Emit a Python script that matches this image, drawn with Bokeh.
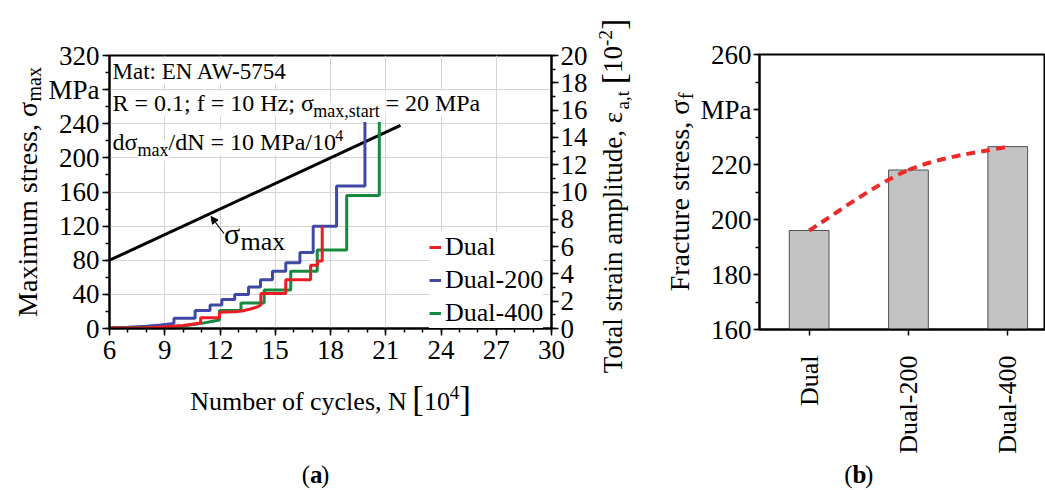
import numpy as np
from bokeh.plotting import figure
from bokeh.models import (Range1d, LinearAxis, Label, Legend, LegendItem, Arrow,
                          NormalHead, FixedTicker)
from bokeh.layouts import row, column
from bokeh.embed import file_html
from bokeh.resources import INLINE

FONT = "Liberation Serif"
CANVAS_H = 490

# ---------------- data: panel (a) ----------------
sigma_line_N = [6, 21.8]
sigma_line_S = [80, 238]

dual_N = [6, 8, 9, 10, 10.95, 10.95, 11.97, 11.97, 12.8, 13.2, 13.6, 14.0, 14.22, 14.22,
          15.57, 15.57, 16.92, 16.92, 17.3, 17.3, 17.55, 17.55]
dual_S = [0.5, 1, 2, 3.5, 6.5, 12.5, 12.5, 19, 19.5, 20.5, 22.5, 25, 27.5, 41,
          41, 57, 57, 74, 74, 79, 79, 120]

dual200_N = [6, 7, 8, 8.8, 9.5, 9.5, 10.65, 10.65, 11.46, 11.46, 12.1, 12.1, 12.8, 12.8,
             13.55, 13.55, 14.2, 14.2, 14.85, 14.85, 15.57, 15.57, 16.34, 16.34,
             17.06, 17.06, 18.33, 18.33, 19.87, 19.87]
dual200_S = [1, 1.5, 2.5, 4, 6, 12, 12, 21, 21, 27.5, 27.5, 34, 34, 40,
             40, 48.5, 48.5, 57, 57, 67, 67, 77, 77, 89,
             89, 120, 120, 167, 167, 242]

dual400_N = [6, 9, 10, 11, 11.97, 11.97, 13.14, 13.14, 14.4, 14.4, 15.84, 15.84,
             17.28, 17.28, 18.88, 18.88, 20.65, 20.65]
dual400_S = [0.5, 1.5, 3, 6, 10, 21, 21, 30, 30, 45, 45, 67,
             67, 92, 92, 156, 156, 242]

x_ticks_a = [6, 9, 12, 15, 18, 21, 24, 27, 30]
y_ticks_a = [0, 40, 80, 120, 160, 200, 240, 280, 320]
eps_ticks = [0, 2, 4, 6, 8, 10, 12, 14, 16, 18, 20]

# ---------------- data: panel (b) ----------------
materials = ["Dual", "Dual-200", "Dual-400"]
fracture_stress = [196, 218, 226.5]
y_ticks_b = [160, 180, 200, 220, 240, 260]

RED = "#ec1c24"
BLUE = "#4049a6"
GREEN = "#168a3e"

# ---------------- text helpers ----------------
W = {' ': 250, ',': 250, '.': 250, '-': 333, '/': 278, ':': 278, ';': 278, '=': 564,
     '[': 333, ']': 333, '(': 333, ')': 333, 'A': 722, 'D': 722, 'E': 611, 'F': 556,
     'H': 722, 'M': 889, 'N': 722, 'P': 556, 'R': 667, 'T': 611, 'W': 944,
     'a': 444, 'b': 500, 'c': 444, 'd': 500, 'e': 444, 'f': 333, 'i': 278, 'l': 278,
     'm': 778, 'n': 500, 'o': 500, 'p': 500, 'r': 333, 's': 389, 't': 278, 'u': 500,
     'x': 500, 'y': 500, 'z': 444, 'σ': 552, 'ε': 438}
for _d in "0123456789":
    W[_d] = 500

K_BASE = 0.3375  # distance from text-box centre down to the baseline, in em


def tw(s, size):
    return sum(W.get(c, 500) for c in s) * size / 1000.0


def put(p, fx, fy, px, py, text, size, angle=0.0, bold=False, bg=None, level=None):
    """Place text so that its baseline passes through (px, py) (page pixels)."""
    if angle == 0.0:
        py = py - K_BASE * size
    else:
        px = px - K_BASE * size
    lab = Label(x=fx(px), y=fy(py), text=text, text_font=FONT,
                text_font_size=f"{size}px", text_baseline="alphabetic",
                text_align="left", angle=angle, text_color="black")
    if bold:
        lab.text_font_style = "bold"
    if bg:
        lab.background_fill_color = bg
    if level:
        lab.level = level
    p.add_layout(lab)


def hrow(p, fx, fy, x0, base, parts, bg=None, level=None, center=False):
    total = sum(tw(pt[0], pt[1]) for pt in parts)
    x = x0 - total / 2 if center else x0
    for part in parts:
        t, s, dy = part[0], part[1], part[2]
        bold = part[3] if len(part) > 3 else False
        body = t.lstrip(" ")
        lead = tw(t[:len(t) - len(body)], s)
        if body.strip():
            put(p, fx, fy, x + lead, base + dy, body, s, bold=bold, bg=bg, level=level)
        x += tw(t, s)


def vrow(p, fx, fy, base_x, yc, parts):
    total = sum(tw(t, s) for t, s, _ in parts)
    y = yc + total / 2
    for t, s, dx in parts:
        body = t.lstrip(" ")
        lead = tw(t[:len(t) - len(body)], s)
        if body.strip():
            put(p, fx, fy, base_x + dx, y - lead, body, s, angle=np.pi / 2)
        y -= tw(t, s)


def style_axis(ax, size=27):
    ax.axis_line_width = 2
    ax.axis_line_color = "black"
    ax.major_tick_line_width = 1.5
    ax.major_tick_line_color = "black"
    ax.major_tick_out = 7
    ax.major_tick_in = 0
    ax.minor_tick_line_width = 1.5
    ax.minor_tick_line_color = "black"
    ax.minor_tick_out = 4
    ax.minor_tick_in = 0
    ax.major_label_text_font = FONT
    ax.major_label_text_font_size = f"{size}px"
    ax.major_label_text_color = "black"
    ax.major_label_standoff = 3


def strip(x0, y0, w, h, bl=0, br=0):
    """Blank text canvas over the page region x0..x0+w, y0..y0+h.
    bl/br: side borders (to match the frame alignment of a plot stacked above)."""
    f = figure(width=w, height=h, x_range=Range1d(x0 + bl, x0 + w - br),
               y_range=Range1d(CANVAS_H - (y0 + h), CANVAS_H - y0),
               output_backend="svg", toolbar_location=None, min_border=0,
               min_border_left=bl, min_border_right=br,
               x_axis_location=None, y_axis_location=None)
    f.outline_line_color = None
    f.background_fill_color = "white"
    f.border_fill_color = "white"
    f.grid.visible = False
    return f


def fx_abs(px):
    return px


def fy_abs(py):
    return CANVAS_H - py


# ================= panel (a) =================
YLA_W = 45
P1_X0 = YLA_W
A_FL, A_FR, A_FT, A_FB = 108, 552, 55, 328
P1_W, P1_H = 545, 375
XS, XE, YS, YE = 6, 30, 0, 320


def fxa(px):
    return XS + (px - A_FL) * (XE - XS) / (A_FR - A_FL)


def fya(py):
    return YS + (A_FB - py) * (YE - YS) / (A_FB - A_FT)


p1 = figure(width=P1_W, height=P1_H, x_range=Range1d(XS, XE), y_range=Range1d(YS, YE),
            output_backend="svg", toolbar_location=None,
            min_border_left=A_FL - P1_X0, min_border_right=P1_X0 + P1_W - A_FR,
            min_border_top=A_FT, min_border_bottom=P1_H - A_FB)
p1.background_fill_color = "white"
p1.border_fill_color = "white"
p1.outline_line_color = "black"
p1.outline_line_width = 2

p1.xaxis.ticker = FixedTicker(ticks=x_ticks_a, minor_ticks=list(range(6, 31)))
p1.yaxis.ticker = FixedTicker(ticks=y_ticks_a, minor_ticks=list(range(0, 321, 20)))
p1.yaxis.major_label_overrides = {280: "MPa"}
style_axis(p1.xaxis[0])
style_axis(p1.yaxis[0])
p1.xaxis.major_label_standoff = 5

p1.extra_y_ranges = {"eps": Range1d(0, 20)}
eax = LinearAxis(y_range_name="eps",
                 ticker=FixedTicker(ticks=eps_ticks, minor_ticks=list(range(0, 21))))
style_axis(eax)
eax.major_label_standoff = 2
p1.add_layout(eax, "right")

for g in (p1.xgrid[0], p1.ygrid[0]):
    g.grid_line_color = "#d4d4d4"
    g.grid_line_width = 1
p1.xgrid.ticker = FixedTicker(ticks=x_ticks_a)
p1.ygrid.ticker = FixedTicker(ticks=y_ticks_a)

# text block (top-left, inside the frame)
hrow(p1, fxa, fya, 111, 79, [("Mat: EN AW-5754", 23, 0)], bg="white", level="underlay")
hrow(p1, fxa, fya, 111, 111, [("R = 0.1; f = 10 Hz; σ", 24, 0), ("max,start", 18, 6),
                              (" = 20 MPa", 24, 0)], bg="white", level="underlay")
hrow(p1, fxa, fya, 111, 150, [("dσ", 24, 0), ("max", 18, 6), ("/dN = 10 MPa/10", 24, 0),
                              ("4", 16, -10)], bg="white", level="underlay")

p1.line(sigma_line_N, sigma_line_S, line_color="black", line_width=3)
r_red = p1.line(dual_N, dual_S, line_color=RED, line_width=3)
r_blue = p1.line(dual200_N, dual200_S, line_color=BLUE, line_width=3)
r_green = p1.line(dual400_N, dual400_S, line_color=GREEN, line_width=3)
p1.renderers = [p1.renderers[0], r_blue, r_green, r_red]

# sigma_max annotation
p1.add_layout(Arrow(end=NormalHead(size=7, line_color="black", fill_color="black"),
                    x_start=fxa(223), y_start=fya(233), x_end=fxa(210), y_end=fya(216),
                    line_width=1.2, line_color="black"))
put(p1, fxa, fya, 223, 243, "σ", 30)
put(p1, fxa, fya, 223 + tw("σ", 30), 250, "max", 26)

legend = Legend(items=[LegendItem(label="Dual", renderers=[r_red]),
                       LegendItem(label="Dual-200", renderers=[r_blue]),
                       LegendItem(label="Dual-400", renderers=[r_green])],
                location=(320, 0))
legend.label_text_font = FONT
legend.label_text_font_size = "26px"
legend.label_text_color = "black"
legend.glyph_width = 12
legend.glyph_height = 20
legend.label_standoff = 4
legend.spacing = 3
legend.padding = 2
legend.margin = 0
legend.border_line_color = None
legend.background_fill_color = "white"
legend.background_fill_alpha = 1.0
p1.add_layout(legend)

# text canvases around panel (a)
ylab_a = strip(0, 0, YLA_W, CANVAS_H)
vrow(ylab_a, fx_abs, fy_abs, 36, (A_FT + A_FB) / 2,
     [("Maximum stress, σ", 28, 0), ("max", 20, 4)])

strip_a = strip(P1_X0, P1_H, P1_W, CANVAS_H - P1_H,
                bl=A_FL - P1_X0, br=P1_X0 + P1_W - A_FR)
hrow(strip_a, fx_abs, fy_abs, (A_FL + A_FR) / 2, 410,
     [("Number of cycles, N ", 26, 0), ("[", 35, 1), ("10", 26, 0), ("4", 19, -12),
      ("]", 35, 1)], center=True)
hrow(strip_a, fx_abs, fy_abs, 315, 482,
     [("(", 25, 0), ("a", 25, 0, True), (")", 25, 0)], center=True)

RLAB_X0, RLAB_W = P1_X0 + P1_W, 52
rlab_a = strip(RLAB_X0, 0, RLAB_W, CANVAS_H)
vrow(rlab_a, fx_abs, fy_abs, 622, (A_FT + A_FB) / 2 + 4,
     [("Total strain amplitude, ε", 27, 0), ("a,t", 19, 6), (" ", 27, 0), ("[", 34, 2),
      ("10", 27, 0), ("-2", 19, -11), ("]", 34, 2)])

# ================= panel (b) =================
YLB_X0 = RLAB_X0 + RLAB_W
P2_X0 = 697
YLB_W = P2_X0 - YLB_X0
B_FL, B_FR, B_FT, B_FB = 757, 1045, 54, 329
P2_W, P2_H = 1045 - P2_X0, 460
BXS, BXE, BYS, BYE = 0, 2.88, 160, 260

ylab_b = strip(YLB_X0, 0, YLB_W, CANVAS_H)
vrow(ylab_b, fx_abs, fy_abs, 688, (B_FT + B_FB) / 2,
     [("Fracture stress, σ", 28, 0), ("f", 20, 4)])

p2 = figure(width=P2_W, height=P2_H, x_range=Range1d(BXS, BXE),
            y_range=Range1d(BYS, BYE), output_backend="svg", toolbar_location=None,
            min_border_left=B_FL - P2_X0, min_border_right=0,
            min_border_top=B_FT, min_border_bottom=P2_H - B_FB)
p2.background_fill_color = "white"
p2.border_fill_color = "white"
p2.outline_line_color = "black"
p2.outline_line_width = 2
p2.grid.visible = False

xpos = [i + 0.5 for i in range(len(materials))]
p2.vbar(x=xpos, top=fracture_stress, bottom=BYS, width=0.4,
        fill_color="#c3c3c3", line_color="#505050", line_width=1)

# smooth dashed trend through the bar tops (Catmull-Rom as cubic Bezier)
n = len(xpos)
bx0, by0, bx1, by1, bcx0, bcy0, bcx1, bcy1 = [], [], [], [], [], [], [], []
for i in range(n - 1):
    im1 = max(i - 1, 0)
    ip2 = min(i + 2, n - 1)
    bx0.append(xpos[i]); by0.append(fracture_stress[i])
    bx1.append(xpos[i + 1]); by1.append(fracture_stress[i + 1])
    bcx0.append(xpos[i] + (xpos[i + 1] - xpos[im1]) / 6)
    bcy0.append(fracture_stress[i] + (fracture_stress[i + 1] - fracture_stress[im1]) / 6)
    bcx1.append(xpos[i + 1] - (xpos[ip2] - xpos[i]) / 6)
    bcy1.append(fracture_stress[i + 1] - (fracture_stress[ip2] - fracture_stress[i]) / 6)
p2.bezier(x0=bx0, y0=by0, x1=bx1, y1=by1, cx0=bcx0, cy0=bcy0, cx1=bcx1, cy1=bcy1,
          line_color="#ee2a2a", line_width=4, line_dash="9 6")

p2.xaxis.ticker = FixedTicker(ticks=xpos, minor_ticks=[])
p2.xaxis.major_label_overrides = {x: m for x, m in zip(xpos, materials)}
p2.xaxis.major_label_orientation = np.pi / 2
p2.yaxis.ticker = FixedTicker(ticks=y_ticks_b, minor_ticks=list(range(160, 261, 10)))
p2.yaxis.major_label_overrides = {240: "MPa"}
style_axis(p2.xaxis[0], 26)
style_axis(p2.yaxis[0], 27)
p2.yaxis.major_tick_out = 6
p2.yaxis.major_label_standoff = 2
p2.xaxis.major_tick_out = 6
p2.xaxis.major_label_standoff = 20

strip_b = strip(P2_X0, P2_H, P2_W, CANVAS_H - P2_H, bl=B_FL - P2_X0, br=0)
hrow(strip_b, fx_abs, fy_abs, 857, 482,
     [("(", 25, 0), ("b", 25, 0, True), (")", 25, 0)], center=True)

layout = row(
    ylab_a,
    column(p1, strip_a, spacing=0),
    rlab_a,
    ylab_b,
    column(p2, strip_b, spacing=0),
    spacing=0,
)
open("out.html", "w").write(file_html(layout, INLINE))
